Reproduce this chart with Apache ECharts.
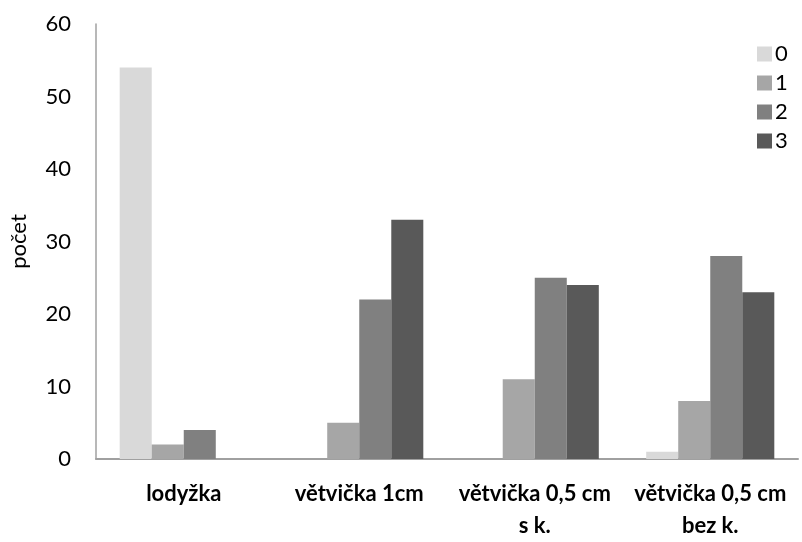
<!DOCTYPE html>
<html><head><meta charset="utf-8">
<script src="https://cdn.jsdelivr.net/npm/echarts@6/dist/echarts.min.js"></script>
<style>html,body{margin:0;padding:0;background:#fff}#c{width:802px;height:542px}</style>
</head><body><div id="c"></div>
<script>
const categories = ['lodyžka', 'větvička 1cm', 'větvička 0,5 cm\ns k.', 'větvička 0,5 cm\nbez k.'];
const seriesNames = ['0', '1', '2', '3'];
const s0 = [54, 0, 0, 1];
const s1 = [2, 5, 11, 8];
const s2 = [4, 22, 25, 28];
const s3 = [0, 33, 24, 23];
const colors = ['#d9d9d9', '#a6a6a6', '#808080', '#595959'];
const values = [s0, s1, s2, s3];
const font = 'Lato, "Open Sans", sans-serif';
const chart = echarts.init(document.getElementById('c'));
chart.setOption({
  animation: false,
  grid: {left: 95, right: 4, top: 24, bottom: 79, containLabel: false},
  legend: {
    orient: 'vertical', left: 752, top: 38, itemWidth: 15, itemHeight: 15, itemGap: 7,
    icon: 'rect',
    textStyle: {fontFamily: font, fontSize: 22, color: '#000', padding: [0,0,0,-2]},
    data: seriesNames
  },
  xAxis: {
    type: 'category', data: categories,
    axisLine: {lineStyle: {color: '#a0a0a0', width: 2}},
    axisTick: {show: false},
    axisLabel: {interval: 0, margin: 19, fontFamily: font, fontSize: 22, fontWeight: 'bold', color: '#000', lineHeight: 32}
  },
  yAxis: {
    type: 'value', min: 0, max: 60, interval: 10,
    name: 'počet', nameLocation: 'middle', nameGap: 66, nameRotate: 90,
    nameTextStyle: {fontFamily: font, fontSize: 22, color: '#000'},
    axisLine: {show: true, lineStyle: {color: '#a0a0a0', width: 1.5}},
    axisTick: {show: false},
    splitLine: {show: false},
    axisLabel: {margin: 25, fontFamily: font, fontSize: 22, color: '#000'}
  },
  series: values.map((v, i) => ({
    name: seriesNames[i], type: 'bar', data: v,
    barGap: '0%', barCategoryGap: '27%',
    itemStyle: {color: colors[i]}
  }))
});
</script></body></html>
